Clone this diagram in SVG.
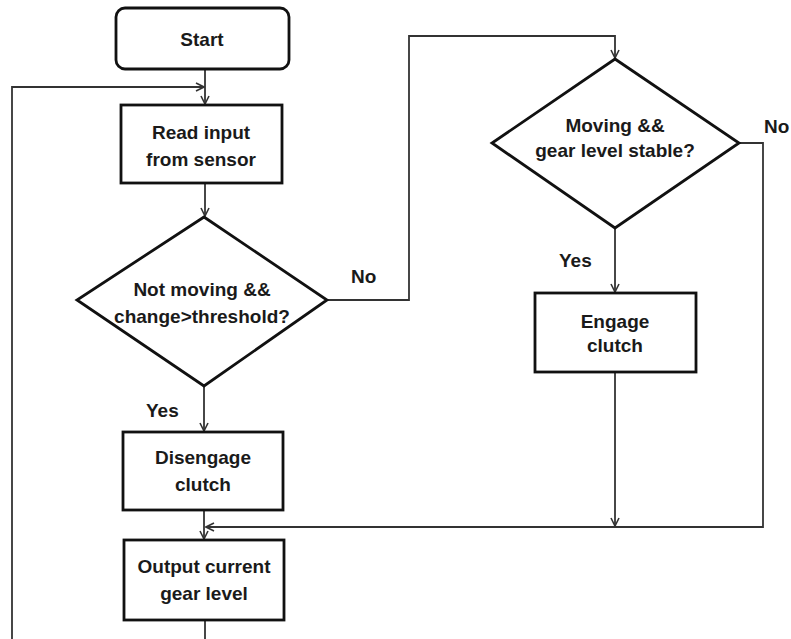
<svg xmlns="http://www.w3.org/2000/svg" width="791" height="639" viewBox="0 0 791 639">
<defs>
<style>
.box{fill:#fff;stroke:#111;stroke-width:2.8}
.t{font-family:"Liberation Sans",Arial,sans-serif;font-weight:bold;font-size:19px;fill:#1a1a1a;text-anchor:middle}
.lbl{font-family:"Liberation Sans",Arial,sans-serif;font-weight:bold;font-size:19px;fill:#1a1a1a}
.c{fill:none;stroke:#333;stroke-width:1.8}
</style>
<marker id="ah" viewBox="0 0 10 10" refX="9" refY="5" markerWidth="10" markerHeight="10" markerUnits="userSpaceOnUse" orient="auto">
<path d="M1,1 L9,5 L1,9" fill="none" stroke="#333" stroke-width="1.6"/>
</marker>
</defs>
<rect width="791" height="639" fill="#fff"/>
<g id="connectors">
<path class="c" d="M205,69 V104" marker-end="url(#ah)"/>
<path class="c" d="M12,639 V87 H204" marker-end="url(#ah)"/>
<path class="c" d="M205,183 V216" marker-end="url(#ah)"/>
<path class="c" d="M327,300 H409 V36 H615 V58" marker-end="url(#ah)"/>
<path class="c" d="M204,386 V431" marker-end="url(#ah)"/>
<path class="c" d="M739,143 H763 V527 H206" marker-end="url(#ah)"/>
<path class="c" d="M615,228 V292" marker-end="url(#ah)"/>
<path class="c" d="M615,372 V526" marker-end="url(#ah)"/>
<path class="c" d="M204,510 V539" marker-end="url(#ah)"/>
<path class="c" d="M205,620 V639"/>
<text class="lbl" x="351" y="283">No</text>
<text class="lbl" x="146" y="417">Yes</text>
<text class="lbl" x="764" y="133">No</text>
<text class="lbl" x="559" y="267">Yes</text>
</g>
<g id="start">
<rect class="box" x="116" y="8" width="173" height="61" rx="9"/>
<text class="t" x="202" y="46">Start</text>
</g>
<g id="read">
<rect class="box" x="121" y="105" width="161" height="78"/>
<text class="t" x="201" y="139">Read input</text>
<text class="t" x="201" y="166">from sensor</text>
</g>
<g id="decision1">
<polygon class="box" points="204,217 327,300 204,386 77,300"/>
<text class="t" x="202" y="296">Not moving &amp;&amp;</text>
<text class="t" x="202" y="323">change&gt;threshold?</text>
</g>
<g id="decision2">
<polygon class="box" points="615,59 739,143 615,228 492,143"/>
<text class="t" x="615" y="132">Moving &amp;&amp;</text>
<text class="t" x="615" y="157">gear level stable?</text>
</g>
<g id="engage">
<rect class="box" x="535" y="293" width="161" height="79"/>
<text class="t" x="615" y="328">Engage</text>
<text class="t" x="615" y="352">clutch</text>
</g>
<g id="disengage">
<rect class="box" x="123" y="432" width="160" height="78"/>
<text class="t" x="203" y="464">Disengage</text>
<text class="t" x="203" y="491">clutch</text>
</g>
<g id="output">
<rect class="box" x="124" y="540" width="160" height="80"/>
<text class="t" x="204" y="573">Output current</text>
<text class="t" x="204" y="600">gear level</text>
</g>
</svg>
